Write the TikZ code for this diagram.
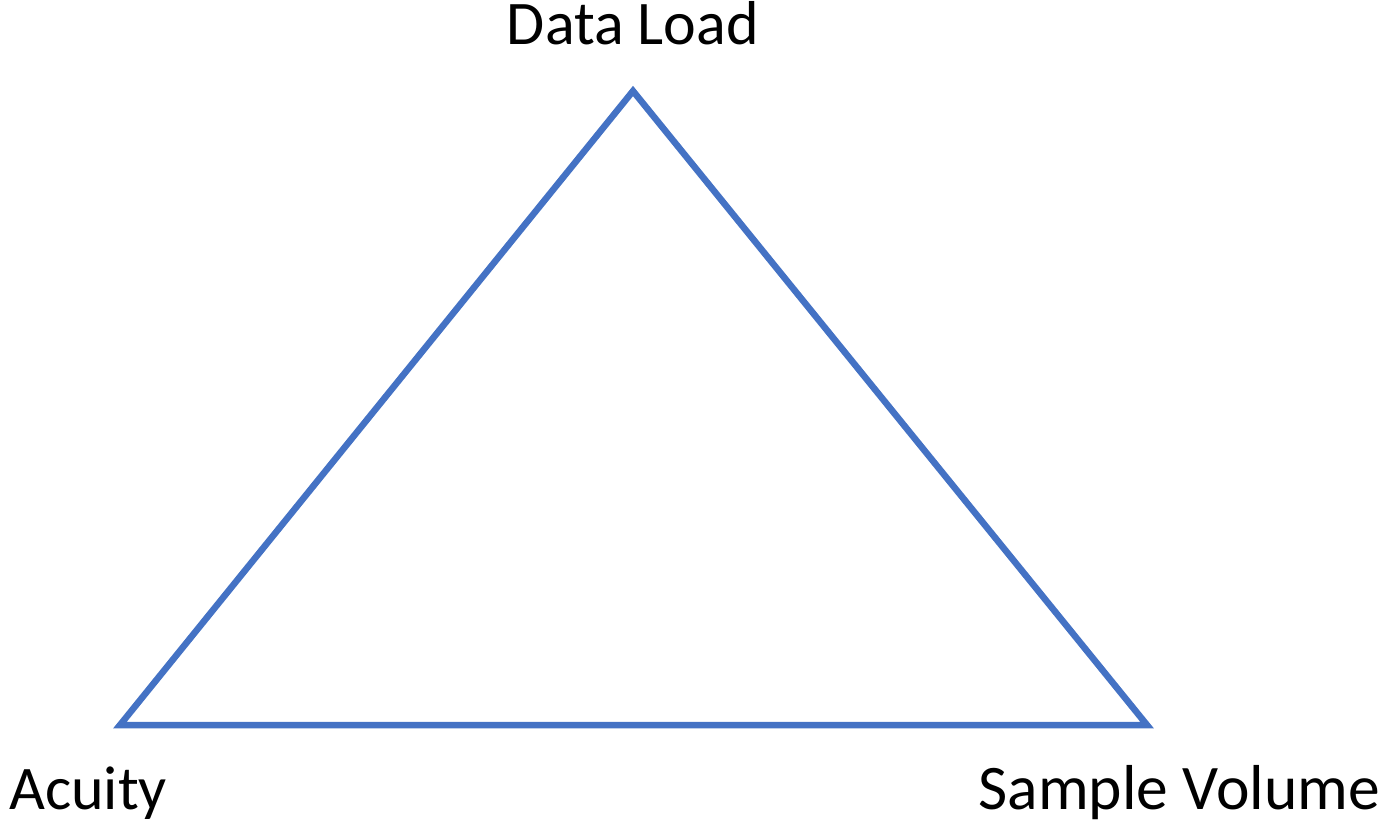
\documentclass[tikz,border=0pt]{standalone}
\usepackage{fontspec}
\setmainfont{Carlito}
\definecolor{edgeblue}{RGB}{68,114,196}
\begin{document}
\begin{tikzpicture}[x=1pt,y=-1pt,
        corner/.style={inner sep=0pt,font=\fontsize{62}{74}\selectfont}]
            \useasboundingbox (0,0) rectangle (1379,821);
            \coordinate (top) at (633,91);
            \coordinate (left) at (120,725);
            \coordinate (right) at (1147,725);
            \draw[edgeblue,line width=6.5pt,line join=miter] (top) -- (left) -- (right) -- cycle;
            \node[corner,anchor=base] (load) at (633,45) {Data Load};
            \node[corner,anchor=base west] (acuity) at (9,809) {Acuity};
            \node[corner,anchor=base east,font=\fontsize{63.5}{74}\selectfont] (volume) at (1380,809) {Sample Volume};
        \end{tikzpicture}
\end{document}
